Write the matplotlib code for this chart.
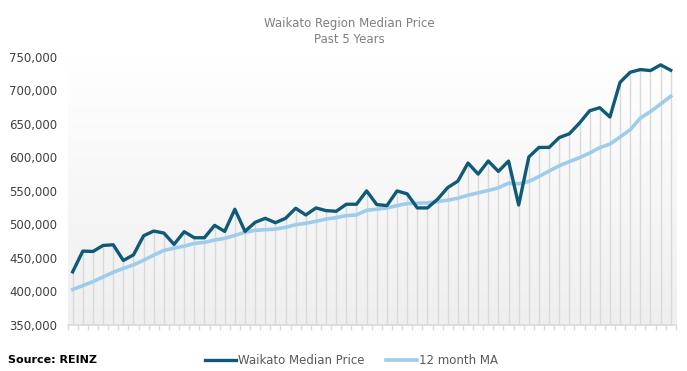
import numpy as np
import matplotlib
matplotlib.use('Agg')
import matplotlib.pyplot as plt
from matplotlib.ticker import FuncFormatter

plt.rcParams['font.family'] = ['DejaVu Sans']

# %% Data (monthly, past 5 years)
median_price = [
    428600, 459600, 459000, 468000, 469000, 445600, 454000, 482500, 489500, 486500,
    469600, 488500, 479500, 479500, 498000, 489000, 522000, 489000, 502500, 508500,
    502000, 508500, 523500, 513500, 524000, 520000, 519000, 529500, 529500, 549400,
    529000, 527500, 549400, 545000, 524000, 524000, 537000, 554400, 564000, 591000,
    574500, 594000, 578500, 594000, 528400, 600000, 614300, 614300, 629000, 634700,
    650700, 669000, 673600, 659700, 711500, 726500, 730500, 729000, 737500, 729500,
]
moving_avg = [
    402200, 408000, 414000, 421000, 428000, 433700, 439000, 446000, 453600, 460600,
    464000, 467000, 471000, 472600, 476000, 478600, 483000, 487600, 490500, 491500,
    492500, 495000, 499000, 501000, 504000, 507500, 509500, 512500, 513500, 520500,
    522000, 524000, 527500, 530500, 531000, 531500, 533500, 535500, 538500, 543000,
    546500, 550000, 554000, 561000, 560000, 563500, 571000, 579000, 587000, 593000,
    599000, 606000, 614000, 619300, 629800, 640700, 658000, 667700, 679000, 690600,
]
series_names = ['Waikato Median Price', '12 month MA']
title = 'Waikato Region Median Price\nPast 5 Years'
source = 'Source: REINZ'

dark = '#0f5a76'
light = '#9ecdeb'
grey = '#d9d9d9'

# %% Plot
fig = plt.figure(figsize=(6.87, 3.71), dpi=100)
ax = fig.add_axes([0.0984, 0.1253, 0.8853, 0.7224])

x = np.arange(len(median_price))
ymin, ymax = 350000, 750000

# background gradient
grad = np.linspace(0, 1, 256).reshape(-1, 1)
cmap = matplotlib.colors.LinearSegmentedColormap.from_list('bg', ['#efefef', '#ffffff'])
ax.imshow(grad, aspect='auto', cmap=cmap, origin='lower',
          extent=(-0.5, len(x) - 0.5, ymin, ymax), zorder=0)

ax.vlines(x, ymin, median_price, color=grey, linewidth=1.0, zorder=1)
ax.plot(x, moving_avg, color=light, linewidth=2.6, label=series_names[1], zorder=2)
ax.plot(x, median_price, color=dark, linewidth=2.4, label=series_names[0], zorder=3)

ax.set_xlim(-0.5, len(x) - 0.5)
ax.set_ylim(ymin, ymax)
ax.set_yticks(np.arange(ymin, ymax + 1, 50000))
ax.yaxis.set_major_formatter(FuncFormatter(lambda v, p: f'{int(v):,}'))
ax.tick_params(axis='y', length=0, pad=7.5, labelsize=8.5, labelcolor='#404040')
ax.set_xticks(np.arange(-0.5, len(x), 1))
ax.set_xticklabels([])
ax.tick_params(axis='x', length=3.5, color=grey, width=1)
for s in ['left', 'right', 'top']:
    ax.spines[s].set_visible(False)
ax.spines['bottom'].set_color(grey)
ax.spines['bottom'].set_linewidth(1.2)

fig.text(0.508, 0.955, title, ha='center', va='top', fontsize=8.5,
         color='#7f7f7f', linespacing=1.3)
fig.text(0.012, 0.015, source, ha='left', va='bottom', fontsize=8,
         fontweight='bold', color='#000000')

handles, labels = ax.get_legend_handles_labels()
fig.legend(handles[::-1], labels[::-1], loc='center', bbox_to_anchor=(0.512, 0.027),
           ncol=2, frameon=False, fontsize=8.5, handlelength=2.6,
           handletextpad=0.2, columnspacing=1.8, labelcolor='#595959')

fig.savefig('out.png', dpi=100)
